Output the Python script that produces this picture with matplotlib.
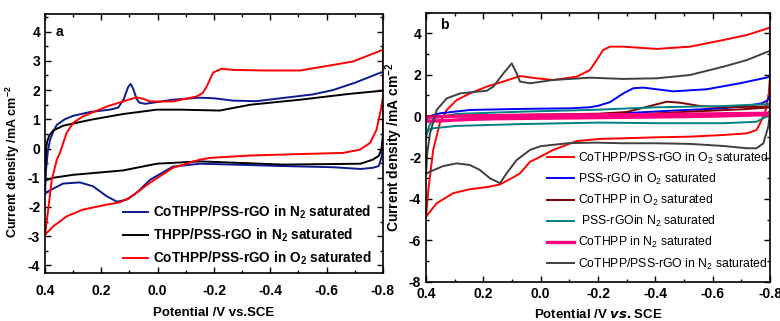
import matplotlib
matplotlib.use("Agg")
import matplotlib.pyplot as plt
from matplotlib.ticker import MultipleLocator

plt.rcParams["font.family"] = ["Liberation Sans", "DejaVu Sans"]
plt.rcParams["mathtext.fontset"] = "custom"
plt.rcParams["mathtext.rm"] = "Liberation Sans"
plt.rcParams["mathtext.it"] = "Liberation Sans:italic"
plt.rcParams["mathtext.bf"] = "Liberation Sans:bold"
plt.rcParams["axes.unicode_minus"] = False

# ---------- panel a: CV loops (upper branch 0.4 -> -0.8, lower branch back) ----------
a_blue_x = [0.4, 0.397, 0.39, 0.382, 0.37, 0.358, 0.33, 0.30, 0.24, 0.17, 0.14, 0.12,
            0.105, 0.096, 0.087, 0.075, 0.065, 0.044, -0.054, -0.15, -0.2, -0.267,
            -0.35, -0.445, -0.55, -0.622, -0.7, -0.8,
            -0.8, -0.795, -0.785, -0.764, -0.72, -0.622, -0.445, -0.267, -0.15,
            -0.054, 0.027, 0.074, 0.11, 0.144, 0.18, 0.23, 0.276, 0.336, 0.394, 0.4]
a_blue_y = [-1.55, -0.8, -0.1, 0.3, 0.6, 0.81, 1.0, 1.12, 1.25, 1.33, 1.4, 1.7,
            2.1, 2.21, 2.05, 1.7, 1.57, 1.53, 1.67, 1.74, 1.72, 1.64,
            1.62, 1.73, 1.85, 2.0, 2.25, 2.63,
            0.2, -0.3, -0.6, -0.66, -0.7, -0.64, -0.6, -0.55, -0.52,
            -0.62, -1.07, -1.51, -1.75, -1.82, -1.64, -1.29, -1.16, -1.2, -1.49, -1.55]

a_black_x = [0.4, 0.398, 0.396, 0.392, 0.385, 0.37, 0.336, 0.24, 0.123, 0.003, -0.08,
             -0.22, -0.33, -0.505, -0.68, -0.8,
             -0.8, -0.795, -0.785, -0.764, -0.72, -0.445, -0.15, 0.003, 0.123, 0.30,
             0.37, 0.4]
a_black_y = [-1.1, -0.5, 0.0, 0.25, 0.45, 0.62, 0.78, 0.98, 1.18, 1.33, 1.33,
             1.3, 1.5, 1.67, 1.87, 1.98,
             0.5, 0.0, -0.25, -0.38, -0.52, -0.55, -0.44, -0.52, -0.75, -0.9,
             -1.0, -1.1]

a_red_x = [0.4, 0.39, 0.376, 0.358, 0.347, 0.335, 0.323, 0.30, 0.265, 0.18, 0.1, 0.074,
           0.05, 0.027, -0.054, -0.138, -0.16, -0.174, -0.197, -0.227, -0.268, -0.387,
           -0.505, -0.622, -0.694, -0.8,
           -0.8, -0.795, -0.777, -0.754, -0.718, -0.658, -0.505, -0.328, -0.186, -0.15,
           -0.054, 0.027, 0.098, 0.134, 0.18, 0.265, 0.323, 0.37, 0.4]
a_red_y = [-2.95, -2.2, -1.07, -0.38, -0.15, 0.2, 0.54, 0.88, 1.1, 1.44, 1.68, 1.75,
           1.7, 1.61, 1.61, 1.78, 1.9, 2.12, 2.6, 2.73, 2.69, 2.67,
           2.67, 2.86, 2.98, 3.38,
           1.78, 1.44, 0.64, 0.19, -0.04, -0.15, -0.19, -0.24, -0.32, -0.38,
           -0.66, -1.17, -1.68, -1.84, -1.92, -2.09, -2.32, -2.66, -2.95]

a_labels = ["CoTHPP/PSS-rGO in N$_\\mathbf{2}$ saturated",
            "THPP/PSS-rGO in N$_\\mathbf{2}$ saturated",
            "CoTHPP/PSS-rGO in O$_\\mathbf{2}$ saturated"]

# ---------- panel b ----------
b_red_x = [0.4, 0.392, 0.375, 0.352, 0.328, 0.293, 0.247, 0.188, 0.131, 0.072, 0.014,
           -0.044, -0.126, -0.149, -0.172, -0.195, -0.218, -0.242, -0.288, -0.405,
           -0.521, -0.637, -0.719, -0.8,
           -0.8, -0.795, -0.785, -0.771, -0.753, -0.719, -0.637, -0.521, -0.405, -0.288,
           -0.207, -0.126, -0.044, 0.014, 0.037, 0.072, 0.095, 0.142, 0.188, 0.247,
           0.305, 0.363, 0.4]
b_red_y = [-4.86, -3.57, -1.63, -0.34, 0.30, 0.78, 1.1, 1.43, 1.67, 1.94, 1.83,
           1.75, 1.91, 2.07, 2.23, 2.71, 3.2, 3.36, 3.36, 3.25,
           3.36, 3.68, 3.92, 4.28,
           1.9, 1.0, 0.3, -0.18, -0.67, -0.83, -0.91, -0.99, -1.02, -1.07,
           -1.1, -1.2, -1.63, -2.05, -2.2, -2.76, -2.95, -3.3, -3.43, -3.53,
           -3.72, -4.21, -4.86]

b_blue_x = [0.4, 0.393, 0.351, 0.247, 0.072, -0.102, -0.172, -0.2, -0.242, -0.288,
            -0.323, -0.358, -0.463, -0.579, -0.695, -0.8,
            -0.8, -0.79, -0.77, -0.72, -0.637, -0.463, -0.288, -0.172, -0.056, 0.1,
            0.3, 0.4]
b_blue_y = [-0.25, -0.02, 0.14, 0.30, 0.35, 0.38, 0.43, 0.5, 0.68, 1.1,
            1.35, 1.38, 1.2, 1.3, 1.59, 1.9,
            1.0, 0.75, 0.62, 0.5, 0.38, 0.27, 0.14, 0.06, -0.05, -0.12,
            -0.18, -0.25]

b_dred_x = [0.4, 0.2, 0.0, -0.2, -0.3, -0.381, -0.44, -0.486, -0.556, -0.637, -0.8,
            -0.8, -0.7, -0.521, -0.347, -0.2, 0.0, 0.2, 0.4]
b_dred_y = [0.0, 0.05, 0.08, 0.12, 0.2, 0.49, 0.70, 0.65, 0.49, 0.43, 0.47,
            0.42, 0.33, 0.22, 0.09, 0.03, 0.0, -0.02, 0.0]

b_teal_x = [0.4, 0.39, 0.374, 0.293, 0.061, -0.172, -0.405, -0.637, -0.8,
            -0.8, -0.788, -0.753, -0.637, -0.405, -0.207, 0.061, 0.293, 0.374, 0.392, 0.4]
b_teal_y = [-0.95, -0.5, -0.1, 0.11, 0.22, 0.30, 0.43, 0.49, 0.59,
            0.3, -0.02, -0.27, -0.34, -0.34, -0.31, -0.38, -0.47, -0.58, -0.67, -0.95]

b_pink_x = [0.4, 0.39, 0.3, 0.0, -0.4, -0.8, -0.8, -0.6, -0.2, 0.2, 0.4]
b_pink_y = [-0.25, -0.05, 0.0, 0.05, 0.08, 0.14, 0.08, 0.0, -0.07, -0.13, -0.25]

b_gray_x = [0.4, 0.396, 0.386, 0.363, 0.328, 0.281, 0.188, 0.165, 0.13, 0.101, 0.084,
            0.072, 0.037, -0.044, -0.137, -0.172, -0.288, -0.405, -0.521, -0.637,
            -0.719, -0.8,
            -0.8, -0.794, -0.777, -0.753, -0.719, -0.637, -0.521, -0.405, -0.288,
            -0.195, -0.1, 0.0, 0.037, 0.084, 0.119, 0.142, 0.177, 0.212, 0.247, 0.293,
            0.34, 0.386, 0.4]
b_gray_y = [-2.79, -1.8, -0.83, 0.3, 0.86, 1.1, 1.23, 1.43, 2.07, 2.55, 2.07,
            1.67, 1.59, 1.75, 1.83, 1.86, 1.8, 1.83, 1.99, 2.39,
            2.71, 3.16,
            0.14, -0.5, -1.31, -1.55, -1.55, -1.44, -1.34, -1.31, -1.31,
            -1.28, -1.3, -1.45, -1.63, -2.12, -2.76, -3.24, -3.0, -2.6, -2.36, -2.28,
            -2.41, -2.68, -2.79]

b_labels = ["CoTHPP/PSS-rGO in O$_2$ saturated",
            "PSS-rGO in O$_2$ saturated",
            "CoTHPP in O$_2$ saturated",
            " PSS-rGOin N$_2$ saturated",
            "CoTHPP in N$_2$ saturated",
            "CoTHPP/PSS-rGO in N$_2$ saturated"]

x_ticks = [0.4, 0.2, 0.0, -0.2, -0.4, -0.6, -0.8]
x_ticklabels = ["0.4", "0.2", "0.0", "-0.2", "-0.4", "-0.6", "-0.8"]


def style_axes(ax, xminor, yticks, yminor, xpad):
    ax.set_xticks(x_ticks)
    ax.set_xticklabels(x_ticklabels)
    ax.xaxis.set_minor_locator(MultipleLocator(xminor))
    ax.set_yticks(yticks)
    ax.yaxis.set_minor_locator(MultipleLocator(yminor))
    ax.tick_params(which="both", direction="in", top=True, right=True, width=1.0)
    ax.tick_params(which="major", length=4, labelsize=10)
    ax.tick_params(which="minor", length=2)
    ax.tick_params(axis="x", which="major", pad=xpad)
    for lab in ax.get_xticklabels() + ax.get_yticklabels():
        lab.set_fontweight("bold")
    for sp in ax.spines.values():
        sp.set_linewidth(1.2)


fig = plt.figure(figsize=(7.8, 3.21), dpi=100)
ax1 = fig.add_axes([0.0577, 0.1505, 0.4333, 0.8055])
ax2 = fig.add_axes([0.5462, 0.1224, 0.441, 0.8380])

# panel a
ax1.plot(a_blue_x, a_blue_y, color="#0d1a8f", lw=1.4, label=a_labels[0])
ax1.plot(a_black_x, a_black_y, color="black", lw=1.4, label=a_labels[1])
ax1.plot(a_red_x, a_red_y, color="#ff0000", lw=1.4, label=a_labels[2])
ax1.set_xlim(0.4, -0.8)
ax1.set_ylim(-4.25, 4.6)
style_axes(ax1, 0.1, [-4, -3, -2, -1, 0, 1, 2, 3, 4], 0.5, xpad=8.5)
ax1.set_xlabel("Potential /V vs.SCE", fontsize=9.5, fontweight="bold", labelpad=6)
ax1.set_ylabel("Current density /mA cm$^\\mathbf{-2}$", fontsize=9, fontweight="bold")
ax1.yaxis.set_label_coords(-0.068, 0.428)
ax1.text(0.03, 0.93, "a", transform=ax1.transAxes, fontsize=10, fontweight="bold",
         va="center")
ax1.legend(loc="lower right", bbox_to_anchor=(0.994, -0.015), frameon=False,
           prop={"weight": "bold", "size": 9.8}, handlelength=1.85,
           handletextpad=0.35, labelspacing=0.42, borderaxespad=0.3)

# panel b
ax2.plot(b_red_x, b_red_y, color="#ff0000", lw=1.4, label=b_labels[0])
ax2.plot(b_blue_x, b_blue_y, color="#0000ff", lw=1.4, label=b_labels[1])
ax2.plot(b_dred_x, b_dred_y, color="#800000", lw=1.4, label=b_labels[2])
ax2.plot(b_teal_x, b_teal_y, color="#008080", lw=1.4, label=b_labels[3])
ax2.plot(b_pink_x, b_pink_y, color="#ff0080", lw=2.4, label=b_labels[4])
ax2.plot(b_gray_x, b_gray_y, color="#404040", lw=1.4, label=b_labels[5])
ax2.set_xlim(0.4, -0.8)
ax2.set_ylim(-8, 5)
style_axes(ax2, 0.1, [-8, -6, -4, -2, 0, 2, 4], 1, xpad=4)
ax2.set_xlabel("Potential /V $\\mathbfit{vs.}$SCE", fontsize=9.5, fontweight="bold",
               labelpad=5)
ax2.set_ylabel("Current density /mA cm$^\\mathbf{-2}$", fontsize=10, fontweight="bold")
ax2.yaxis.set_label_coords(-0.061, 0.5)
ax2.text(0.041, 0.954, "b", transform=ax2.transAxes, fontsize=10, fontweight="bold",
         va="center")
ax2.legend(loc="lower right", bbox_to_anchor=(1.012, 0.015), frameon=False,
           prop={"size": 8.8}, handlelength=2.2, handletextpad=0.3,
           labelspacing=0.5, borderaxespad=0.1)

fig.savefig("out.png", dpi=100)
